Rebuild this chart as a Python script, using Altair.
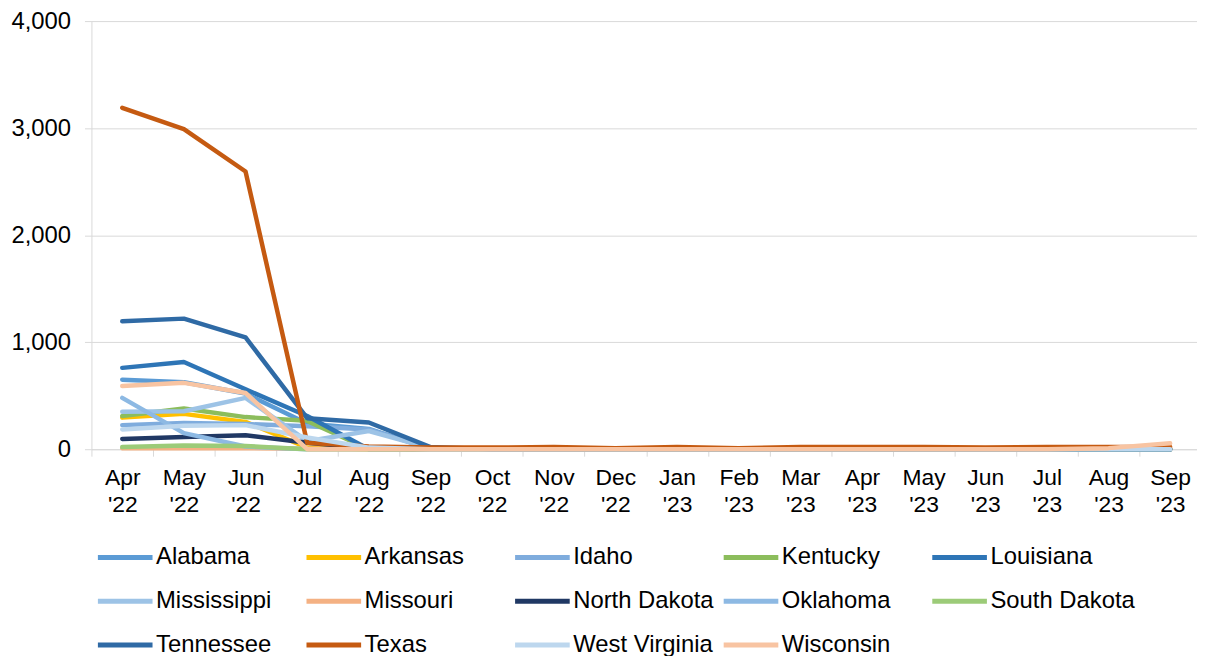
import altair as alt
import pandas as pd

months = ["Apr '22", "May '22", "Jun '22", "Jul '22", "Aug '22", "Sep '22", "Oct '22", "Nov '22", "Dec '22",
          "Jan '23", "Feb '23", "Mar '23", "Apr '23", "May '23", "Jun '23", "Jul '23", "Aug '23", "Sep '23"]

states = ["Alabama", "Arkansas", "Idaho", "Kentucky", "Louisiana", "Mississippi", "Missouri",
          "North Dakota", "Oklahoma", "South Dakota", "Tennessee", "Texas", "West Virginia", "Wisconsin"]

alabama = [650, 625, 520, 240, 190, 5, 0, 0, 0, 0, 0, 0, 0, 0, 0, 0, 0, 0]
arkansas = [295, 330, 255, 15, 0, 0, 0, 0, 0, 0, 0, 0, 0, 0, 0, 0, 0, 0]
idaho = [225, 245, 235, 215, 185, 5, 0, 0, 0, 0, 0, 0, 0, 0, 0, 0, 0, 0]
kentucky = [310, 380, 300, 265, 0, 0, 0, 0, 0, 0, 0, 0, 0, 0, 0, 0, 0, 0]
louisiana = [760, 815, 560, 310, 0, 0, 0, 0, 0, 0, 0, 0, 0, 0, 0, 0, 0, 0]
mississippi = [350, 355, 480, 75, 170, 10, 0, 0, 0, 0, 0, 0, 0, 0, 0, 0, 0, 0]
missouri = [10, 10, 10, 5, 5, 5, 5, 5, 5, 5, 5, 5, 5, 5, 5, 5, 5, 5]
north_dakota = [95, 115, 130, 60, 10, 0, 0, 0, 0, 0, 0, 0, 0, 0, 0, 0, 0, 0]
oklahoma = [480, 150, 25, 0, 0, 0, 0, 0, 0, 0, 0, 0, 0, 0, 0, 0, 0, 0]
south_dakota = [20, 35, 30, 0, 0, 0, 0, 0, 0, 0, 0, 0, 0, 0, 0, 0, 0, 0]
tennessee = [1195, 1220, 1045, 290, 250, 20, 0, 0, 0, 0, 0, 0, 0, 0, 0, 0, 0, 0]
texas = [3190, 2990, 2595, 60, 25, 15, 15, 20, 10, 20, 10, 20, 20, 20, 15, 20, 20, 20]
west_virginia = [185, 220, 225, 110, 15, 0, 0, 0, 0, 0, 0, 0, 0, 0, 0, 0, 0, 0]
wisconsin = [590, 620, 525, 0, 0, 0, 0, 0, 0, 0, 0, 0, 0, 0, 0, 0, 10, 55]

colors = ["#5B9BD5", "#FFC000", "#7FACDD", "#8CBD5C", "#2E75B6", "#9DC3E6", "#F4B183",
          "#203864", "#8DB9E3", "#9CCB78", "#2F6AA5", "#C55A11", "#BDD7EE", "#F8C4A2"]

series = [alabama, arkansas, idaho, kentucky, louisiana, mississippi, missouri,
          north_dakota, oklahoma, south_dakota, tennessee, texas, west_virginia, wisconsin]

rows = []
for s, vals in zip(states, series):
    for m, v in zip(months, vals):
        rows.append({"month": m, "state": s, "value": v})
df = pd.DataFrame(rows)

FONT = "Liberation Sans"

chart = alt.Chart(df).mark_line(strokeWidth=4.5, strokeCap="round", strokeJoin="round").encode(
    x=alt.X("month:N", sort=months, title=None,
            scale=alt.Scale(type="band", range=[0, 1117], paddingInner=0, paddingOuter=0),
            axis=alt.Axis(labelExpr="split(datum.label, ' ')", labelAngle=0, labelFont=FONT,
                          labelFontSize=23, labelColor="#000000", labelLineHeight=27,
                          labelPadding=11, tickBand="extent", tickSize=7, tickColor="#D9D9D9",
                          domainColor="#D9D9D9", grid=False, labelBaseline="top")),
    y=alt.Y("value:Q", title=None, scale=alt.Scale(domain=[0, 4000]),
            axis=alt.Axis(values=[0, 1000, 2000, 3000, 4000], format=",d", labelFont=FONT,
                          labelFontSize=24, labelColor="#000000", ticks=True, tickSize=7,
                          tickColor="#D9D9D9", labelPadding=14,
                          domainColor="#D9D9D9", gridColor="#D9D9D9")),
    color=alt.Color("state:N", sort=states,
                    scale=alt.Scale(domain=states, range=colors),
                    legend=alt.Legend(orient="none", legendX=4, legendY=510, columns=5,
                                      direction="horizontal",
                                      title=None, symbolType="stroke", symbolSize=3025,
                                      symbolStrokeWidth=5, labelFont=FONT, labelFontSize=24,
                                      labelColor="#000000", rowPadding=2, columnPadding=-5,
                                      gridAlign="all", labelOffset=1, labelLimit=400)),
).properties(
    width=1105, height=431,
    autosize=alt.AutoSizeParams(type="none"),
    padding={"left": 84, "top": 11, "right": 8, "bottom": 206},
).configure_view(stroke=None)

chart.save("out.html", embed_options={"renderer": "svg", "actions": False})
